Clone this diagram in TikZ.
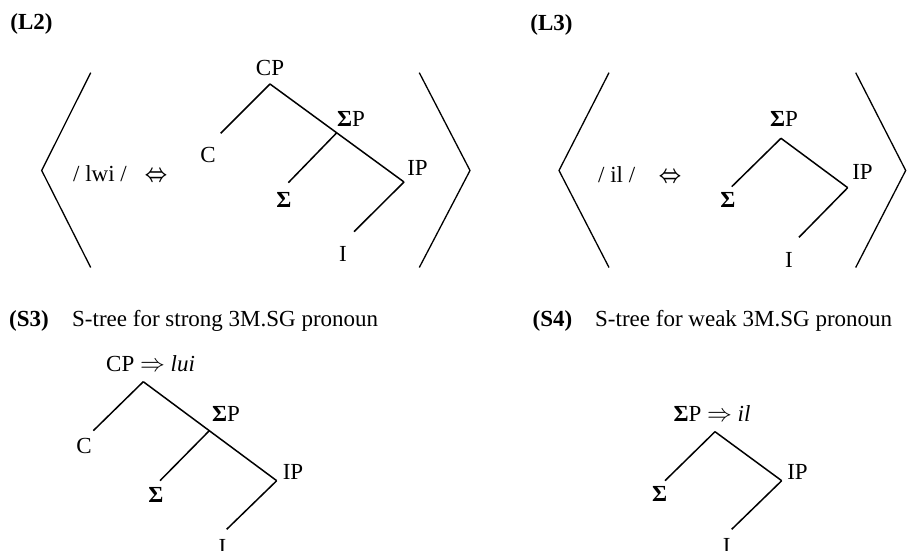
\documentclass[tikz,border=0pt]{standalone}
\usepackage{amsmath}
\usepackage{fontspec}
\setmainfont{Liberation Serif}
\newcommand{\Sg}{\textbf{Σ}}
\begin{document}
\begin{tikzpicture}[x=1pt,y=-1pt,
  lbl/.style={inner sep=0pt,anchor=base,font=\fontsize{23}{27}\selectfont},
  exlbl/.style={inner sep=0pt,anchor=base,font=\fontsize{23}{27}\selectfont\bfseries},
  branch/.style={line width=1.5pt},
  brack/.style={line width=1.3pt}]
\useasboundingbox (0,0) rectangle (911,551);
% ---------- (L2) ----------
\node[exlbl] (L2) at (31.5,30) {(L2)};
\coordinate (lbA1) at (90.7,72.7);
\coordinate (lbA2) at (41.7,170.5);
\coordinate (lbA3) at (90.7,267.5);
\draw[brack] (lbA1) -- (lbA2) -- (lbA3);
\coordinate (rbA1) at (419.3,72.7);
\coordinate (rbA2) at (470,170.5);
\coordinate (rbA3) at (419.3,267.5);
\draw[brack] (rbA1) -- (rbA2) -- (rbA3);
\node[lbl] (lwi) at (100,181) {/ lwi /};
\node[lbl] (eqA) at (156,181) {\scalebox{0.8}[1]{$\boldsymbol{\Leftrightarrow}$}};
\node[lbl] (cpA) at (270,76) {CP};
\node[lbl] (cA) at (208,162.7) {C};
\node[lbl] (spA) at (351,126) {\Sg P};
\node[lbl] (sA) at (284,207) {\Sg};
\node[lbl] (ipA) at (417.5,175) {IP};
\node[lbl] (iA) at (343,261.7) {I};
\coordinate (tcpA) at (270,84);
\coordinate (tcA) at (220.7,133.3);
\coordinate (tspA) at (336.7,132.8);
\coordinate (tsA) at (288.3,182.7);
\coordinate (tipA) at (404,182);
\coordinate (tiA) at (354,231.7);
\draw[branch] (tcpA) -- (tcA);
\draw[branch] (tcpA) -- (tspA) -- (tipA);
\draw[branch] (tspA) -- (tsA);
\draw[branch] (tipA) -- (tiA);
% ---------- (L3) ----------
\node[exlbl] (L3) at (551.5,31) {(L3)};
\coordinate (lbB1) at (609,72.7);
\coordinate (lbB2) at (559,170.5);
\coordinate (lbB3) at (609,267.5);
\draw[brack] (lbB1) -- (lbB2) -- (lbB3);
\coordinate (rbB1) at (855.7,72.7);
\coordinate (rbB2) at (905.7,170.5);
\coordinate (rbB3) at (855.7,267.5);
\draw[brack] (rbB1) -- (rbB2) -- (rbB3);
\node[lbl] (il) at (616.7,182) {/ il /};
\node[lbl] (eqB) at (670,182) {\scalebox{0.8}[1]{$\boldsymbol{\Leftrightarrow}$}};
\node[lbl] (spB) at (784,126) {\Sg P};
\node[lbl] (sB) at (728,207) {\Sg};
\node[lbl] (ipB) at (862.5,179) {IP};
\node[lbl] (iB) at (789,267.7) {I};
\coordinate (tspB) at (781,138.3);
\coordinate (tsB) at (731.7,186.7);
\coordinate (tipB) at (847.7,187.7);
\coordinate (tiB) at (799,237.3);
\draw[branch] (tspB) -- (tsB);
\draw[branch] (tspB) -- (tipB);
\draw[branch] (tipB) -- (tiB);
% ---------- (S3) ----------
\node[exlbl] (S3) at (29,326) {(S3)};
\node[lbl,anchor=base west] (capS3) at (72,326) {S-tree for strong 3M.SG pronoun};
\node[lbl,anchor=base west] (cpC) at (106,371.7) {CP $\Rightarrow$ \textit{lui}};
\node[lbl] (cC) at (84,453.3) {C};
\node[lbl] (spC) at (226,421.7) {\Sg P};
\node[lbl] (sC) at (156,502.7) {\Sg};
\node[lbl] (ipC) at (293,479) {IP};
\node[lbl] (iC) at (222.5,554) {I};
\coordinate (tcpC) at (143.3,381.7);
\coordinate (tcC) at (93.3,430.7);
\coordinate (tspC) at (209.3,430.7);
\coordinate (tsC) at (160,480.7);
\coordinate (tipC) at (276.7,480.7);
\coordinate (tiC) at (226.7,529.3);
\draw[branch] (tcpC) -- (tcC);
\draw[branch] (tcpC) -- (tspC) -- (tipC);
\draw[branch] (tspC) -- (tsC);
\draw[branch] (tipC) -- (tiC);
% ---------- (S4) ----------
\node[exlbl] (S4) at (552.5,326) {(S4)};
\node[lbl,anchor=base west] (capS4) at (595,326) {S-tree for weak 3M.SG pronoun};
\node[lbl,anchor=base west] (spD) at (673.3,421.7) {\Sg P $\Rightarrow$ \textit{il}};
\node[lbl] (sD) at (659.7,501.7) {\Sg};
\node[lbl] (ipD) at (797.5,479) {IP};
\node[lbl] (iD) at (726.7,553) {I};
\coordinate (tspD) at (715,431.7);
\coordinate (tsD) at (665,480.7);
\coordinate (tipD) at (781.7,480.7);
\coordinate (tiD) at (731.7,529.3);
\draw[branch] (tspD) -- (tsD);
\draw[branch] (tspD) -- (tipD);
\draw[branch] (tipD) -- (tiD);
\end{tikzpicture}
\end{document}
